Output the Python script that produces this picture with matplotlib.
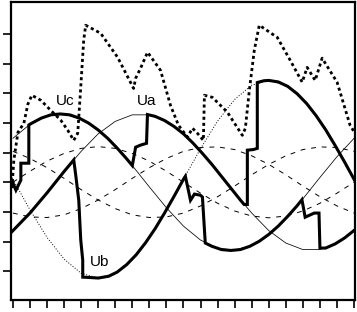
import matplotlib
matplotlib.use('Agg')
import matplotlib.pyplot as plt

# phase angle grid (deg), one point per tick
deg = [0, 18, 36, 54, 72, 90, 108, 126, 144, 162, 180,
       198, 216, 234, 252, 270, 288, 306, 324, 342, 360]

# thin reference waves
ua_ref = [-1.63, -1.04, -0.36, 0.36, 1.04, 1.63, 2.05, 2.27, 2.27, 2.05, 1.63,
          1.04, 0.36, -0.36, -1.04, -1.63, -2.05, -2.27, -2.27, -2.05, -1.63]
uc_ref = [1.48, 1.95, 2.23, 2.29, 2.13, 1.76, 1.22, 0.56, -0.16, -0.86, -1.48,
          -1.95, -2.23, -2.29, -2.13, -1.76, -1.22, -0.56, 0.16, 0.86, 1.48]
ub_ref = [0.10, -0.93, -1.86, -2.59, -3.07, -3.23, -3.07, -2.59, -1.86, -0.93, 0.10,
          1.13, 2.06, 2.79, 3.27, 3.43, 3.27, 2.79, 2.06, 1.13, 0.10]
# dashed small waves
e1 = [-1.04, -1.17, -1.19, -1.10, -0.89, -0.60, -0.25, 0.13, 0.49, 0.80, 1.04,
      1.17, 1.19, 1.10, 0.89, 0.60, 0.25, -0.13, -0.49, -0.80, -1.04]
e2 = [1.04, 0.80, 0.49, 0.13, -0.25, -0.60, -0.89, -1.10, -1.19, -1.17, -1.04,
      -0.80, -0.49, -0.13, 0.25, 0.60, 0.89, 1.10, 1.19, 1.17, 1.04]
e3 = [0.0, 0.37, 0.71, 0.97, 1.14, 1.20, 1.14, 0.97, 0.71, 0.37, 0.0,
      -0.37, -0.71, -0.97, -1.14, -1.20, -1.14, -0.97, -0.71, -0.37, 0.0]

# thick trace Uc -> Ua
t1_x = [-2, 3.2, 8.4, 8.4, 13.7, 16.8, 16.8, 20, 30, 40, 50, 60, 70, 80, 90, 100,
        110, 120, 126, 129.5, 134.7, 141, 142, 150, 160, 170, 180, 190, 200, 210,
        220, 230, 240, 244, 247.4, 247.4, 253.7, 257.9, 257.9, 265, 270, 280, 290,
        300, 310, 320, 330, 340, 350, 361]
t1_y = [0.13, -0.27, 0.07, 0.64, 0.64, 0.64, 1.93, 1.99, 2.16, 2.27, 2.30, 2.27,
        2.16, 1.99, 1.76, 1.48, 1.15, 0.79, 0.56, 1.18, 1.25, 1.31, 2.28, 2.22,
        2.08, 1.88, 1.63, 1.32, 0.97, 0.60, 0.20, -0.20, -0.60, -0.75, -0.75,
        1.08, 1.10, 1.14, 3.36, 3.42, 3.43, 3.38, 3.23, 2.98, 2.65, 2.24, 1.77,
        1.24, 0.68, 0.04]

# thick trace Ub
t2_x = [-2, 18, 36, 54, 64.2, 66.3, 69.5, 71.6, 73.7, 73.7, 80, 90, 101, 110, 120,
        130, 140, 150, 160, 170, 180, 182, 187.4, 191.6, 197.9, 200, 203, 210, 220,
        230, 240, 250, 260, 270, 280, 290, 300, 305, 308.4, 318, 323, 324, 330, 340,
        350, 361]
t2_y = [-1.70, -1.04, -0.36, 0.36, 0.75, 0.24, -0.61, -1.95, -2.63, -3.20, -3.21,
        -3.23, -3.17, -3.03, -2.78, -2.45, -2.04, -1.57, -1.04, -0.48, 0.10, 0.20,
        -0.61, -0.40, -0.44, -0.50, -2.05, -2.16, -2.27, -2.30, -2.27, -2.16, -1.99,
        -1.76, -1.48, -1.15, -0.79, -0.59, -1.18, -1.04, -1.04, -2.22, -2.22, -2.08,
        -1.88, -1.60]

# thick dotted trace
d_x = [-1, 1, 5.3, 11.6, 15.8, 20, 29.5, 40, 50.5, 57.9, 64.2, 68.4, 71.6, 74.7,
       76.8, 92.6, 110.5, 127.4, 129.5, 134.7, 142.1, 155.8, 166.3, 174.7, 184.2,
       189.5, 194.7, 201, 202.1, 210.5, 226.3, 242.1, 245.3, 249.5, 254.7, 260,
       279, 292.6, 305.3, 310.5, 319, 326.3, 342.1, 355.8, 361]
d_y = [-0.2, 0.74, 1.68, 1.99, 2.63, 2.93, 2.76, 2.42, 2.09, 1.75, 1.41, 1.65, 3.2,
       4.78, 5.29, 5.02, 4.21, 3.16, 3.5, 3.84, 4.38, 3.77, 2.59, 1.92, 1.52, 1.82,
       1.65, 1.41, 2.93, 2.86, 2.36, 1.58, 1.82, 3.1, 4.44, 5.29, 4.88, 4.11, 3.37,
       3.87, 3.43, 4.18, 3.37, 1.92, 1.65]

fig = plt.figure(figsize=(3.57, 3.12), dpi=100)
ax = fig.add_axes([11/357, 12/312, 344/357, 298.5/312])

ax.plot(deg, ua_ref, color='k', lw=0.55)
ax.plot(deg, uc_ref, color='k', lw=0.55)
ax.plot(deg, ub_ref, color='k', lw=0.7, ls=(0, (1, 1.8)))
for e in (e1, e2, e3):
    ax.plot(deg, e, color='k', lw=0.7, ls=(0, (5, 6)))

ax.plot(t1_x, t1_y, color='k', lw=2.2, solid_joinstyle='miter')
ax.plot(t2_x, t2_y, color='k', lw=2.2, solid_joinstyle='miter')
ax.plot(d_x, d_y, color='k', lw=2.0, ls=(0, (1.1, 1.1)))

ax.text(55, 2.73, 'Uc', fontsize=11, family='Liberation Sans', ha='center', va='center')
ax.text(141, 2.73, 'Ua', fontsize=11, family='Liberation Sans', ha='center', va='center')
ax.text(91, -2.69, 'Ub', fontsize=11, family='Liberation Sans', ha='center', va='center')

ax.set_xlim(-2, 361)
ax.set_ylim(-3.97, 6.09)
ax.set_xticks(deg)
ax.set_yticks([-3, -2, -1, 0, 1, 2, 3, 4, 5])
ax.tick_params(direction='out', length=6, width=1.2, labelbottom=False, labelleft=False)
for s in ax.spines.values():
    s.set_linewidth(1.6)

fig.savefig('out.png', dpi=100)
